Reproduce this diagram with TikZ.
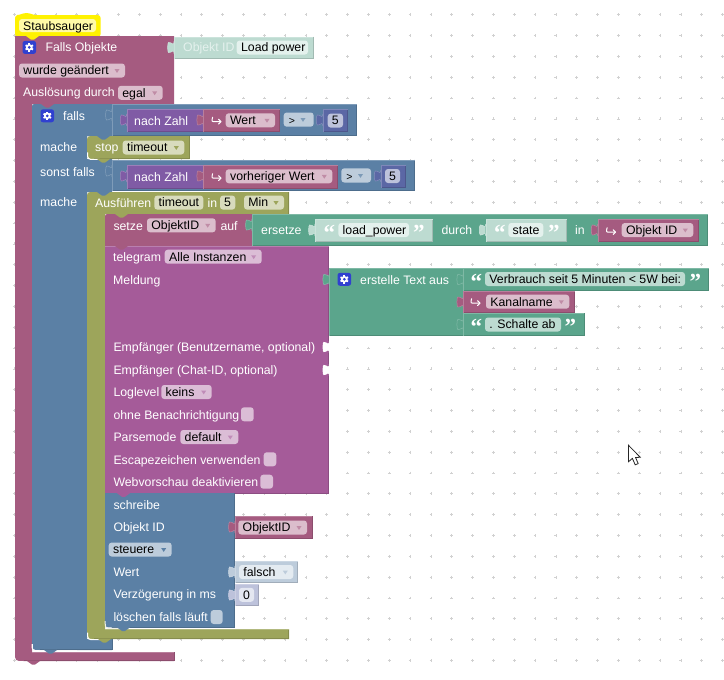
\documentclass[tikz,border=0pt]{standalone}
\usepackage{fontspec}
\setmainfont{Liberation Sans}
\newfontfamily\qfont{Liberation Serif}
\definecolor{krose}{HTML}{A55B80}
\definecolor{kblue}{HTML}{5B80A5}
\definecolor{kolive}{HTML}{9DA55B}
\definecolor{kgreen}{HTML}{5BA58C}
\definecolor{kpur}{HTML}{A55B99}
\definecolor{kvio}{HTML}{805BA5}
\definecolor{knum}{HTML}{5B67A5}
\definecolor{rosef}{HTML}{DBBDCC}
\definecolor{bluef}{HTML}{BDCCDB}
\definecolor{olivef}{HTML}{D8DBBD}
\definecolor{greenf}{HTML}{BDDBD1}
\definecolor{purf}{HTML}{DBBDD6}
\definecolor{numf}{HTML}{BDC2DB}
\definecolor{greenl}{HTML}{E4F1ED}
\definecolor{bluel}{HTML}{E4EBF1}
\definecolor{numl}{HTML}{E4E7F1}
\definecolor{iconb}{HTML}{3040D0}
\newcount\nodeno
\newcommand{\nn}{\global\advance\nodeno by 1 }
\tikzset{
  lab/.style={anchor=base west,inner sep=0pt,font=\fontsize{12.3}{14}\selectfont},
  quot/.style={anchor=base west,inner sep=0pt,text=white,font=\qfont\bfseries\fontsize{23}{24}\selectfont},
}
% #1 x, #2 baseline, #3 colour, #4 text
\newcommand{\lbl}[4]{\nn\node[lab,text=#3,name=t\the\nodeno] at (#1,#2) {#4};}
% #1 colour, #2 x1, #3 y1, #4 x2, #5 y2
\newcommand{\blk}[5]{\fill[#1] (#2,#3) rectangle (#4,#5);
  \draw[#1!85!black,line width=.6pt] (#4-.3,#3) -- (#4-.3,#5-.3) -- (#2,#5-.3);
  \draw[#1!78!white,line width=.6pt] (#2+.3,#5) -- (#2+.3,#3+.3) -- (#4,#3+.3);}
% field with arrow: #1 fill, #2 x1, #3 x2, #4 ytop, #5 text, #6 arrow colour
\newcommand{\fld}[6]{\fill[#1,rounded corners=3pt] (#2,#4) rectangle (#3,#4+14);
  \fill[#6] (#3-10.5,#4+5.6) -- (#3-5.5,#4+5.6) -- (#3-8,#4+9.4) -- cycle;
  \lbl{#2+4.2}{#4+11.3}{black}{#5}}
% field without arrow, text left
\newcommand{\fldn}[5]{\fill[#1,rounded corners=3pt] (#2,#4) rectangle (#3,#4+14);
  \lbl{#2+4.2}{#4+11.3}{black}{#5}}
% centred field
\newcommand{\fldc}[5]{\fill[#1,rounded corners=3pt] (#2,#4) rectangle (#3,#4+14);
  \nn\node[anchor=base,inner sep=0pt,font=\fontsize{12.3}{14}\selectfont,name=t\the\nodeno] at ({(#2+#3)/2},#4+11.3) {#5};}
% puzzle tab: #1 fill colour, #2 x, #3 y0
\newcommand{\tabb}[3]{\fill[#1] (#2+.5,#3) -- (#2,#3) .. controls (#2,#3+8) and (#2-6.4,#3-6.4) .. (#2-6.4,#3+6)
   .. controls (#2-6.4,#3+18.4) and (#2,#3+4) .. (#2,#3+12) -- (#2+.5,#3+12) -- cycle;}
\newcommand{\tabo}[3]{\filldraw[fill=#1,draw=#1!75!white,line width=.5pt] (#2,#3) .. controls (#2,#3+8) and (#2-6.4,#3-6.4) .. (#2-6.4,#3+6)
   .. controls (#2-6.4,#3+18.4) and (#2,#3+4) .. (#2,#3+12);}
% statement dent: #1 colour, #2 x, #3 y
\newcommand{\dent}[3]{\fill[#1] (#2,#3-.5) -- (#2,#3) .. controls (#2+2,#3) and (#2+3,#3+3.6) .. (#2+5,#3+3.6)
   -- (#2+8,#3+3.6) .. controls (#2+10,#3+3.6) and (#2+11,#3) .. (#2+13,#3) -- (#2+13,#3-.5) -- cycle;}
% hook arrow: #1 x, #2 centre y
\newcommand{\hk}[2]{\draw[white,line width=1pt,line cap=round,line join=round]
   (#1+.6,#2-2.8) .. controls (#1-.4,#2+1.6) .. (#1+3,#2+1.6) -- (#1+8.8,#2+1.6);
   \draw[white,line width=1pt,line cap=round,line join=round] (#1+6.6,#2-.8) -- (#1+9,#2+1.6) -- (#1+6.6,#2+4);}
% quotes: #1 x, #2 centre y
\newcommand{\qo}[2]{\nn\node[quot,name=t\the\nodeno] at (#1-.5,#2+12.8) {“};}
\newcommand{\qc}[2]{\nn\node[quot,name=t\the\nodeno] at (#1-.5,#2+12.8) {”};}
% gear icon: #1 x centre, #2 y centre
\newcommand{\gear}[2]{\fill[iconb,rounded corners=2.5pt] (#1-6.8,#2-6.5) rectangle (#1+6.8,#2+6.5);
   \foreach \a in {0,60,120}{\fill[white,rotate around={\a:(#1,#2)}] (#1-.9,#2-4.3) rectangle (#1+.9,#2+4.3);}
   \fill[white] (#1,#2) circle (3.3);\fill[iconb] (#1,#2) circle (1.5);}
% checkbox
\newcommand{\chk}[4]{\fill[#1,rounded corners=3pt] (#2,#4) rectangle (#3,#4+14);}
\newcommand{\hl}[3]{\draw[white,line width=1.1pt] (#1,#2-7) .. controls (#1,#2) .. (#1+7,#2) -- (#1+#3,#2);}
\begin{document}
\begin{tikzpicture}[x=1pt,y=-1pt]
\useasboundingbox (0,0) rectangle (724,680);
\fill[white] (0,0) rectangle (724,680);
% grid
\foreach \i in {0,...,34}{\foreach \j in {0,...,31}{
  \pgfmathsetmacro{\gx}{14.3+20.83*\i}\pgfmathsetmacro{\gy}{14.7+20.83*\j}
  \draw[black!18,line width=.6pt] (\gx-1.4,\gy) -- (\gx+1.4,\gy) (\gx,\gy-1.4) -- (\gx,\gy+1.4);}}
% ---- hat comment
\fill[yellow,rounded corners=3pt] (15,15) -- (20,15) .. controls (24,13) and (29,13) .. (33,15) -- (100.7,15) -- (100.7,37) -- (15,37) -- cycle;
\fill[yellow!35!white,rounded corners=3pt] (19,19) rectangle (96,32);
\lbl{23}{30.2}{black}{Staubsauger}
% ---- outer rose block
\fill[krose] (15,36) -- (174,36) -- (174,104) -- (32,104) -- (32,652) -- (174,652) -- (174,661) -- (24,661) .. controls (15,661) .. (15,652) -- cycle;
\draw[krose!85!black,line width=.6pt] (174,652) -- (174,660.7) -- (24,660.7);
\draw[krose!78!white,line width=.6pt] (32,652.3) -- (174,652.3);
\dent{yellow}{26}{36}
\gear{29.3}{47.4}
\lbl{45.3}{52}{white}{Falls Objekte}
\tabo{greenf}{174}{41.5}
\blk{greenf}{174}{36.7}{313.3}{59}
\lbl{183}{52}{greenl}{Objekt ID}
\fldn{greenl}{236.7}{308}{40.5}{Load power}
\fld{rosef}{19}{125}{63.5}{wurde geändert}{krose!70!white}
\lbl{23}{96.5}{white}{Auslösung durch}
\fld{rosef}{118}{162.7}{85.8}{egal}{krose!70!white}
% ---- blue if block
\fill[kblue] (32,109) .. controls (32,104) .. (37,104) -- (112,104) -- (112,136) -- (87,136) -- (87,159) -- (112,159) -- (112,192) -- (87,192) -- (87,639) -- (112,639) -- (112,650) -- (40,650) .. controls (32,650) .. (32,642) -- cycle;
\draw[kblue!85!black,line width=.6pt] (112,639) -- (112,649.7) -- (40,649.7);
\hl{32.2}{651}{45}
\dent{krose}{41}{104}
\gear{47.3}{115.8}
\lbl{63}{120}{white}{falls}
\lbl{40}{151}{white}{mache}
\lbl{40}{176}{white}{sonst falls}
\lbl{40}{206}{white}{mache}
% compare 1
\blk{kblue}{112}{104}{357}{135.6}
\tabo{kblue}{112}{109}
\tabo{kvio}{126.7}{114}
\blk{kvio}{126.7}{109}{203.3}{132}
\lbl{134}{125}{white}{nach Zahl}
\tabo{krose}{203.3}{114}
\blk{krose}{203.3}{109}{280}{132}
\hk{212}{120}
\fld{rosef}{225.7}{275}{113.3}{Wert}{krose!70!white}
\fill[bluef,rounded corners=3pt] (283.7,112.5) rectangle (313.7,126.7);
\fill[kblue!80!white] (300.5,118) -- (305.5,118) -- (303,121.8) -- cycle;
\nn\node[lab,name=t\the\nodeno,font=\fontsize{10.5}{12}\selectfont] at (288.6,124) {>};
\tabo{knum}{322.7}{114}
\blk{knum}{322.7}{108.7}{348}{131.7}
\fldc{numf}{327.7}{343}{113.6}{5}
% stop
\fill[kolive] (87,143) .. controls (87,136) .. (94,136) -- (189.5,136) -- (189.5,159) -- (94,159) .. controls (87,159) .. (87,152) -- cycle;
\draw[kolive!85!black,line width=.6pt] (189.2,136) -- (189.2,158.7) -- (94,158.7);
\hl{87.6}{159.4}{12}
\dent{kblue}{97}{136}
\dent{kolive}{97}{159}
\lbl{95}{151}{white}{stop}
\fld{olivef}{122.7}{184.3}{140.5}{timeout}{kolive}
% compare 2
\blk{kblue}{112}{159.5}{414.5}{191}
\tabo{kblue}{112}{165}
\tabo{kvio}{126.7}{170}
\blk{kvio}{126.7}{165}{203.3}{188.5}
\lbl{134}{181}{white}{nach Zahl}
\tabo{krose}{203.3}{170}
\blk{krose}{203.3}{165}{337.7}{188.5}
\hk{212}{176.5}
\fld{rosef}{225.7}{332.3}{169.3}{vorheriger Wert}{krose!70!white}
\fill[bluef,rounded corners=3pt] (341.3,168.3) rectangle (371,182.5);
\fill[kblue!80!white] (358,174) -- (363,174) -- (360.5,177.8) -- cycle;
\nn\node[lab,name=t\the\nodeno,font=\fontsize{10.5}{12}\selectfont] at (346.2,180) {>};
\tabo{knum}{380.7}{170}
\blk{knum}{380.7}{165}{405.7}{187.7}
\fldc{numf}{385}{400}{169}{5}
% ---- olive timeout
\fill[kolive] (87,199) .. controls (87,192) .. (94,192) -- (289,192) -- (289,214) -- (105,214) -- (105,629) -- (289,629) -- (289,639) -- (94,639) .. controls (87,639) .. (87,632) -- cycle;
\draw[kolive!85!black,line width=.6pt] (288.7,192) -- (288.7,213.7) (288.7,629) -- (288.7,638.7) -- (94,638.7);
\draw[kolive!78!white,line width=.6pt] (105,629.3) -- (289,629.3);
\hl{87.6}{639.6}{14}
\dent{kblue}{97}{192}
\dent{kolive}{98}{639}
\lbl{95}{207}{white}{Ausführen}
\fldn{olivef}{154.3}{203.3}{195.6}{timeout}
\lbl{207.5}{207}{white}{in}
\fldc{olivef}{220}{235.3}{195.6}{5}
\fld{olivef}{244}{284}{195.6}{Min}{kolive}
% ---- setze
\fill[krose] (105,219) .. controls (105,214) .. (110,214) -- (252,214) -- (252,246) -- (105,246) -- cycle;
\dent{kolive}{115}{214}
\lbl{113.3}{230}{white}{setze}
\fld{rosef}{147}{215.7}{218.3}{ObjektID}{krose!70!white}
\lbl{220.3}{230}{white}{auf}
\tabo{kgreen}{252}{219}
\blk{kgreen}{252}{214.3}{708}{245.8}
\lbl{261}{234.3}{white}{ersetze}
\tabo{greenf}{315}{224}
\blk{greenf}{315}{219}{432.7}{242}
\qo{324}{228}
\fldn{greenl}{338.3}{409}{223}{load\_power}
\qc{413.3}{228}
\lbl{441.3}{234.3}{white}{durch}
\tabo{greenf}{485.7}{224}
\blk{greenf}{485.7}{219}{566.7}{242}
\qo{494.3}{228}
\fldn{greenl}{508.3}{543.3}{223}{state}
\qc{548.3}{228}
\lbl{575}{234.3}{white}{in}
\tabo{krose}{597.7}{224}
\blk{krose}{597.7}{219}{699}{242}
\hk{606.5}{230.5}
\fld{rosef}{621.7}{693.3}{223}{Objekt ID}{krose!70!white}
% ---- telegram
\fill[kpur] (105,246) -- (328.5,246) -- (328.5,493.3) -- (105,493.3) -- cycle;
\draw[kpur!85!black,line width=.6pt] (328.2,246) -- (328.2,493) -- (105,493);
\draw[kpur!78!white,line width=.6pt] (105,246.3) -- (328.5,246.3);
\dent{krose}{115}{246}
\lbl{113}{261}{white}{telegram}
\fld{purf}{164.7}{261.7}{249.7}{Alle Instanzen}{kpur!70!white}
\lbl{113}{284}{white}{Meldung}
\lbl{113.3}{351}{white}{Empfänger (Benutzername, optional)}
\lbl{113.3}{374}{white}{Empfänger (Chat-ID, optional)}
\tabb{white}{329}{341}
\tabb{white}{329}{364}
\lbl{113.3}{396}{white}{Loglevel}
\fld{purf}{161.3}{211.7}{385}{keins}{kpur!70!white}
\lbl{113.3}{419}{white}{ohne Benachrichtigung}
\chk{purf}{241}{253.7}{407.3}
\lbl{113.3}{441}{white}{Parsemode}
\fld{purf}{180.3}{238.3}{430}{default}{kpur!70!white}
\lbl{113.3}{464}{white}{Escapezeichen verwenden}
\chk{purf}{263.7}{276.3}{452.3}
\lbl{113.3}{486}{white}{Webvorschau deaktivieren}
\chk{purf}{260.3}{273}{474.7}
% ---- text join
\tabo{kgreen}{329.3}{273.5}
\blk{kgreen}{329.3}{268.3}{463.3}{335.7}
\gear{344.3}{279.3}
\lbl{360}{284}{white}{erstelle Text aus}
\tabo{kgreen}{463.3}{273.5}
\blk{kgreen}{463.3}{268.3}{708.5}{290.8}
\qo{471}{277}
\fldn{greenf}{485}{685}{272}{Verbrauch seit 5 Minuten < 5W bei:}
\qc{690}{277}
\tabo{krose}{463.3}{296}
\blk{krose}{463.3}{291}{574.7}{313}
\hk{471}{301.5}
\fld{rosef}{486}{569.3}{294.7}{Kanalname}{krose!70!white}
\tabo{kgreen}{463.3}{318.5}
\blk{kgreen}{463.3}{313.3}{584.3}{335.7}
\qo{471}{322}
\fldn{greenf}{485}{561}{317.5}{. Schalte ab}
\qc{565}{322}
% ---- schreibe
\fill[kblue] (105,493) -- (234.3,493) -- (234.3,627.5) -- (112,627.5) .. controls (105,627.5) .. (105,620.5) -- cycle;
\draw[kblue!85!black,line width=.6pt] (234,493) -- (234,627.2) -- (112,627.2);
\draw[white!85!kolive,line width=1pt] (105.2,621) .. controls (105.2,628.4) .. (112,628.4) -- (125,628.4);
\dent{kpur}{117}{493.2}
\dent{kblue}{117}{627.4}
\lbl{113.3}{509}{white}{schreibe}
\lbl{113.3}{531}{white}{Objekt ID}
\fld{bluef}{108.7}{171.7}{542.5}{steuere}{kblue}
\lbl{113.3}{576}{white}{Wert}
\lbl{113.3}{598.7}{white}{Verzögerung in ms}
\lbl{113.3}{621}{white}{löschen falls läuft}
\chk{bluef}{210.7}{222.7}{610}
\tabo{krose}{235}{521}
\blk{krose}{235}{516}{312.3}{538.3}
\fld{rosef}{238.3}{307}{520.5}{ObjektID}{krose!70!white}
\tabo{bluef}{235}{566}
\blk{bluef}{235}{561}{298}{583}
\fld{bluel}{239}{293.3}{565}{falsch}{bluef}
\tabo{numf}{235}{589}
\blk{numf}{235}{583.5}{258.6}{606}
\fldc{numl}{239}{254}{587.8}{0}
% bottom dents
\dent{kblue}{44}{650}
\dent{krose}{27}{661}
% cursor
\filldraw[fill=white,draw=black!85,line width=.8pt,line join=miter] (628.4,445.2) -- (628.4,461.8) -- (632.4,458.4) -- (635.2,464.8) -- (638.2,463.6) -- (635.6,457.6) -- (640.2,457.2) -- cycle;
\end{tikzpicture}
\end{document}
